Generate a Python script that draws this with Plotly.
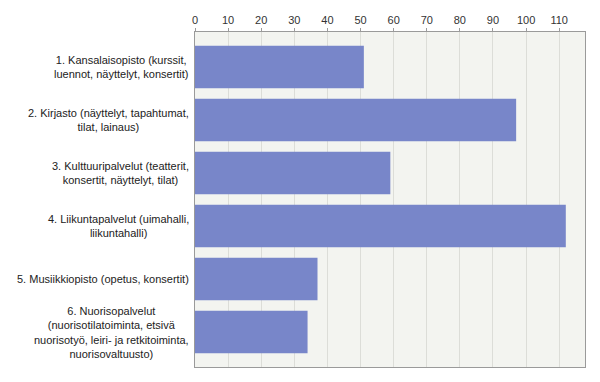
import plotly.graph_objects as go

categories = [
    "1. Kansalaisopisto (kurssit,<br>luennot, näyttelyt, konsertit)",
    "2. Kirjasto (näyttelyt, tapahtumat,<br>tilat, lainaus)",
    "3. Kulttuuripalvelut (teatterit,<br>konsertit, näyttelyt, tilat)",
    "4. Liikuntapalvelut (uimahalli,<br>liikuntahalli)",
    "5. Musiikkiopisto (opetus, konsertit)",
    "6. Nuorisopalvelut<br>(nuorisotilatoiminta, etsivä<br>nuorisotyö, leiri- ja retkitoiminta,<br>nuorisovaltuusto)",
]
values = [51, 97, 59, 112, 37, 34]
x_ticks = list(range(0, 111, 10))

positions = list(range(len(categories)))

fig = go.Figure()
fig.add_trace(go.Bar(
    x=values,
    y=positions,
    orientation="h",
    marker=dict(color="#7886c9", line=dict(width=0)),
    width=0.8,
    hoverinfo="x",
))

for pos, label in zip(positions, categories):
    fig.add_annotation(
        x=0, xref="paper", y=pos, yref="y",
        text=label, showarrow=False,
        xanchor="right", yanchor="middle", align="center",
        xshift=-4,
        font=dict(family="Liberation Sans, Arial, sans-serif", size=11, color="#222222"),
    )

fig.update_layout(
    width=600, height=382,
    margin=dict(l=195, r=15, t=32, b=15),
    paper_bgcolor="white",
    plot_bgcolor="#f3f4f0",
    showlegend=False,
    font=dict(family="Liberation Sans, Arial, sans-serif", size=11, color="#333333"),
    xaxis=dict(
        side="top",
        range=[0, 117.8],
        tickvals=x_ticks,
        ticktext=[str(v) for v in x_ticks],
        showgrid=True, gridcolor="#dcddd8", gridwidth=1,
        zeroline=False,
        showline=True, linecolor="#9a9a9a", linewidth=1, mirror=True,
        ticks="outside", ticklen=3, tickcolor="#9a9a9a",
        tickfont=dict(size=11, color="#333333"),
        fixedrange=True,
    ),
    yaxis=dict(
        range=[5.66, -0.66],
        showticklabels=False,
        showgrid=False, zeroline=False,
        showline=True, linecolor="#9a9a9a", linewidth=1, mirror=True,
        ticks="",
        fixedrange=True,
    ),
)

fig.write_html(
    "out.html",
    config={"displayModeBar": False},
    post_script="document.body.style.margin='0';document.body.style.overflow='hidden';",
)
